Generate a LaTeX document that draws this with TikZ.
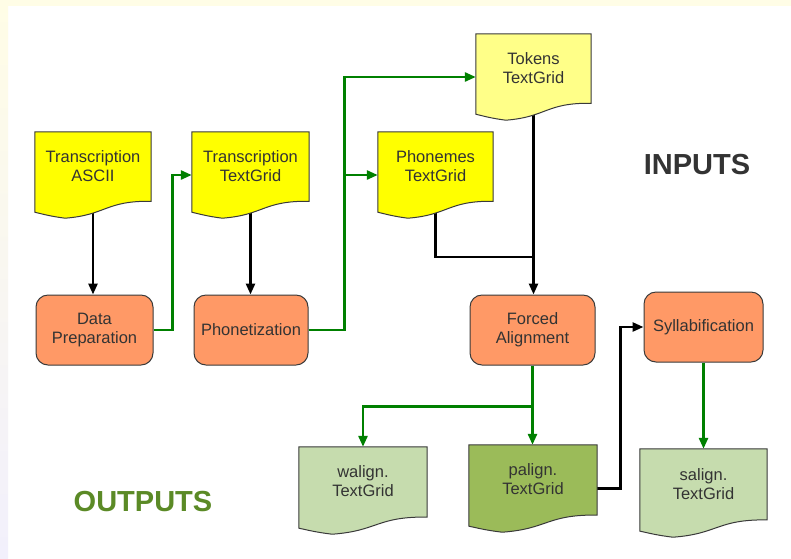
\documentclass[tikz,border=0pt]{standalone}
\usepackage{fontspec}
\setmainfont{Liberation Sans}
\usetikzlibrary{calc,arrows.meta}

% page under wires, wires under the document sheets, sheets under the texts
\pgfdeclarelayer{page}
\pgfdeclarelayer{wires}
\pgfdeclarelayer{sheets}
\pgfsetlayers{page,wires,sheets,main}

\definecolor{ink}{HTML}{333333}
\definecolor{outline}{HTML}{3A3A3A}
\definecolor{docyellow}{HTML}{FFFF00}
\definecolor{docpale}{HTML}{FFFF88}
\definecolor{procorange}{HTML}{FF9966}
\definecolor{outlight}{HTML}{C6DCAE}
\definecolor{outdark}{HTML}{9BBB59}
\definecolor{flowgreen}{HTML}{008000}
\definecolor{olive}{HTML}{5B8A26}
\definecolor{frametop}{HTML}{FFFDE6}
\definecolor{framebottom}{HTML}{F2F0FC}

\tikzset{
  x=1pt, y=-1pt,
  txt/.style={text=ink, font=\fontsize{16.5}{19}\selectfont, align=center},
  docbox/.style={inner sep=0pt, draw=none, shape=rectangle},
  doctext/.style={txt, inner sep=0pt},
  sheet/.style={draw=outline, line width=1pt},
  process/.style={txt, draw=outline, line width=1pt, fill=procorange,
    rounded corners=12pt, inner sep=0pt},
  tipshape/.style={-{Triangle[length=11pt,width=9pt]}},
  flowk/.style={draw=black, line width=2.6pt},
  flowg/.style={draw=flowgreen, line width=2.6pt},
  heading/.style={font=\fontsize{29}{34}\selectfont\bfseries, inner sep=0pt},
}

% document sheet: a box with a wavy lower edge, and its two-line caption
\newcommand\docsheet[6]{%
  \node[docbox, minimum width=#3, minimum height=#4] (#1) at (#2) {};
  \begin{pgfonlayer}{sheets}
    \path[sheet, fill=#5] let \p1=(#1.north west), \p2=(#1.south east),
        \n1={\x2-\x1}, \n2={\y1-\y2} in
      (\p1) -- (\x2,\y1) -- (\x2,{\y1-0.804*\n2})
      .. controls ({\x1+0.604*\n1},{\y1-0.797*\n2}) and ({\x1+0.618*\n1},{\y1-0.962*\n2})
      .. ({\x1+0.26*\n1},\y2)
      .. controls ({\x1+0.132*\n1},{\y1-0.977*\n2}) and ({\x1+0.086*\n1},{\y1-0.958*\n2})
      .. (\x1,{\y1-0.931*\n2}) -- cycle;
  \end{pgfonlayer}
  \node[doctext] (#1-text) at ([yshift=9pt]#1.center) {#6};
}

\begin{document}
\begin{tikzpicture}
  \useasboundingbox (0,0) rectangle (791,558);

  % page with its pale frame
  \begin{pgfonlayer}{page}
    \fill[white] (0,0) rectangle (791,558);
    \shade[top color=frametop, bottom color=framebottom] (0,0) rectangle (8,558);
    \fill[frametop] (0,0) rectangle (791,6);
  \end{pgfonlayer}

  % input documents
  \docsheet{asc}{93,175}{116pt}{86pt}{docyellow}{Transcription\\ASCII}
  \docsheet{ttg}{250.5,175}{117pt}{86pt}{docyellow}{Transcription\\TextGrid}
  \docsheet{pho}{435.5,175}{115pt}{86pt}{docyellow}{Phonemes\\TextGrid}
  \docsheet{tok}{533.5,77}{115pt}{86pt}{docpale}{Tokens\\TextGrid}

  % processing steps
  \node[process, minimum width=117pt, minimum height=70pt] (dp) at (94.5,330) {Data\\Preparation};
  \node[process, minimum width=114pt, minimum height=70pt] (ph) at (251,330) {Phonetization};
  \node[process, minimum width=125pt, minimum height=70pt] (fa) at (532.5,330) {Forced\\Alignment};
  \node[process, minimum width=119pt, minimum height=70pt] (sy) at (703.5,327) {Syllabification};

  % output documents
  \docsheet{wal}{363,490.5}{128pt}{87pt}{outlight}{walign.\\TextGrid}
  \docsheet{pal}{533,488.5}{128pt}{87pt}{outdark}{palign.\\TextGrid}
  \docsheet{sal}{703.5,493}{127pt}{88pt}{outlight}{salign.\\TextGrid}

  % headings
  \node[heading, text=ink] (inputs) at (697,165) {INPUTS};
  \node[heading, text=olive] (outputs) at (143,502) {OUTPUTS};

  \coordinate (merge) at (533.5,257);

  \begin{pgfonlayer}{wires}
    % black flows
    \draw[flowk, tipshape] (asc.center) -- (asc.center |- dp.north);
    \draw[flowk, tipshape] (ttg.center) -- (ttg.center |- ph.north);
    \draw[flowk, tipshape] (tok.center) -- (tok.center |- fa.north);
    \draw[flowk] (pho.center) |- (merge);
    \draw[flowk, tipshape] (pal.east) -- ++(23,0) |- (sy.west);

    % green flows
    \draw[flowg, tipshape] (dp.east) -- ++(19,0) |- (ttg.west);
    \draw[flowg, tipshape] (ph.east) -- ++(36,0) |- (tok.west);
    \draw[flowg, tipshape] (ph.east) -- ++(36,0) |- (pho.west);
    \draw[flowg, tipshape] (fa.south) -- (fa.south |- pal.north);
    \draw[flowg, tipshape] (fa.south) -- ++(0,41) -| (wal.north);
    \draw[flowg, tipshape] (sy.south) -- (sal.north);
  \end{pgfonlayer}
\end{tikzpicture}
\end{document}
